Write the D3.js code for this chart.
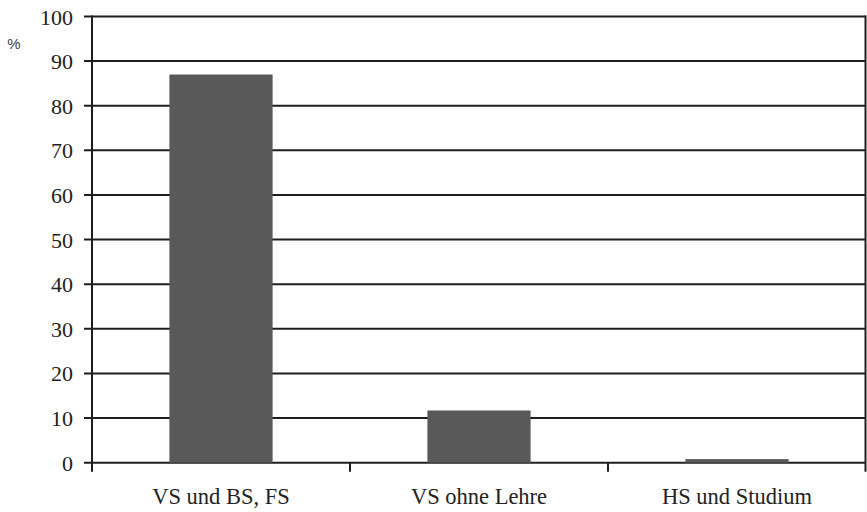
<!DOCTYPE html>
<html>
<head>
<meta charset="utf-8">
<script src="https://cdn.jsdelivr.net/npm/d3@7"></script>
<style>
html,body{margin:0;padding:0;background:#fff;}
svg{display:block;}
</style>
</head>
<body>
<svg id="chart" width="867" height="512"></svg>
<script>
const categories = ["VS und BS, FS", "VS ohne Lehre", "HS und Studium"];
const values = [87, 11.7, 0.8];
const yTicks = [0, 10, 20, 30, 40, 50, 60, 70, 80, 90, 100];
const yUnit = "%";

const svg = d3.select("#chart");
const mLeft = 92, mRight = 866, mTop = 16.5, mBottom = 462.7;

const x = d3.scaleBand().domain(categories).range([mLeft, mRight]).paddingInner(0.6).paddingOuter(0.3);
const xOuter = d3.scaleBand().domain(categories).range([mLeft, mRight]);
const y = d3.scaleLinear().domain([0, 100]).range([mBottom, mTop]);

const ink = "#1e1e1e";

// gridlines + y ticks
svg.append("g").selectAll("line").data(yTicks).join("line")
  .attr("x1", mLeft - 8).attr("x2", mRight)
  .attr("y1", d => y(d)).attr("y2", d => y(d))
  .attr("stroke", ink).attr("stroke-width", 2);

// bars
svg.append("g").selectAll("rect").data(categories).join("rect")
  .attr("x", d => x(d))
  .attr("width", x.bandwidth())
  .attr("y", (d, i) => y(values[i]))
  .attr("height", (d, i) => y(0) - y(values[i]))
  .attr("fill", "#595959");

// y axis line
svg.append("line").attr("x1", mLeft).attr("x2", mLeft).attr("y1", mTop - 1).attr("y2", mBottom + 9)
  .attr("stroke", ink).attr("stroke-width", 2);
// right border
svg.append("line").attr("x1", mRight - 0.5).attr("x2", mRight - 0.5).attr("y1", mTop - 1).attr("y2", mBottom + 9)
  .attr("stroke", ink).attr("stroke-width", 2);

// category boundary ticks
const bounds = categories.slice(1).map(c => xOuter(c));
svg.append("g").selectAll("line").data(bounds).join("line")
  .attr("x1", d => d).attr("x2", d => d)
  .attr("y1", mBottom).attr("y2", mBottom + 9)
  .attr("stroke", ink).attr("stroke-width", 2);

// y tick labels
svg.append("g").selectAll("text").data(yTicks).join("text")
  .attr("x", mLeft - 19).attr("y", d => y(d) + 8)
  .attr("text-anchor", "end")
  .attr("font-family", "'Liberation Serif', 'DejaVu Serif', serif")
  .attr("font-size", 22)
  .attr("fill", "#222")
  .text(d => d);

// x labels
svg.append("g").selectAll("text").data(categories).join("text")
  .attr("x", d => xOuter(d) + xOuter.bandwidth() / 2)
  .attr("y", 504)
  .attr("text-anchor", "middle")
  .attr("font-family", "'Liberation Serif', 'DejaVu Serif', serif")
  .attr("font-size", 22.5)
  .attr("fill", "#222")
  .text(d => d);

// unit
svg.append("text").attr("x", 14).attr("y", 49).attr("text-anchor", "middle")
  .attr("font-family", "'Liberation Sans', 'DejaVu Sans', sans-serif")
  .attr("font-size", 15).attr("fill", "#444").text(yUnit);
</script>
</body>
</html>
